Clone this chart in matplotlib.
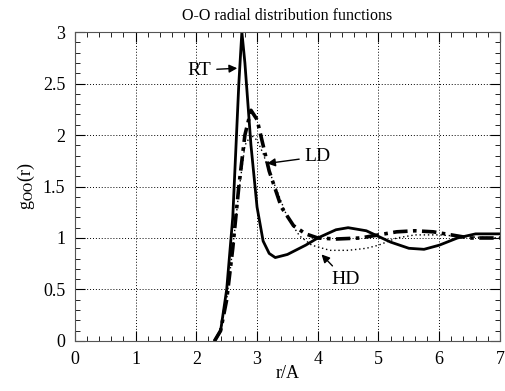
import matplotlib
matplotlib.use("Agg")
import matplotlib.pyplot as plt
from matplotlib.ticker import MultipleLocator

plt.rcParams['font.family'] = ['Liberation Serif', 'DejaVu Serif']
plt.rcParams['mathtext.fontset'] = 'stix'

rt_r = [2.3, 2.4, 2.5, 2.6, 2.7, 2.75, 2.8, 2.9, 3.0, 3.1, 3.2, 3.3, 3.5, 3.8, 4.0, 4.3, 4.5, 4.8, 5.2, 5.5, 5.75, 6.0, 6.3, 6.6, 7.0]
rt_g = [0, 0.1, 0.5, 1.2, 2.5, 3.0, 2.7, 1.9, 1.3, 0.97, 0.85, 0.81, 0.84, 0.93, 1.0, 1.08, 1.1, 1.07, 0.96, 0.9, 0.89, 0.93, 1.0, 1.04, 1.04]

ld_r = [2.3, 2.4, 2.5, 2.6, 2.7, 2.8, 2.9, 3.0, 3.1, 3.2, 3.4, 3.6, 3.8, 4.0, 4.3, 4.7, 5.0, 5.3, 5.6, 5.9, 6.2, 6.5, 7.0]
ld_g = [0, 0.1, 0.4, 0.9, 1.5, 2.0, 2.24, 2.15, 1.9, 1.65, 1.3, 1.12, 1.04, 1.0, 0.99, 1.0, 1.03, 1.06, 1.07, 1.06, 1.03, 1.0, 1.0]

hd_r = [2.3, 2.4, 2.5, 2.6, 2.7, 2.8, 2.9, 3.0, 3.1, 3.2, 3.3, 3.5, 3.7, 3.9, 4.2, 4.5, 4.8, 5.0, 5.3, 5.6, 6.0, 6.5, 7.0]
hd_g = [0, 0.1, 0.4, 0.9, 1.45, 1.9, 2.0, 1.95, 1.82, 1.65, 1.5, 1.2, 1.02, 0.93, 0.88, 0.88, 0.9, 0.93, 1.0, 1.03, 1.03, 1.01, 1.0]

xticks = [0, 1, 2, 3, 4, 5, 6, 7]
yticks = [0, 0.5, 1, 1.5, 2, 2.5, 3]

fig = plt.figure(figsize=(5.06, 3.91), dpi=100)
ax = fig.add_axes([0.148, 0.128, 0.840, 0.790])

ax.plot(rt_r, rt_g, color='black', lw=2.0, solid_joinstyle='round')
ax.plot(ld_r, ld_g, color='black', lw=2.6, linestyle=(0, (4, 1.5, 1, 1.5)))
ax.plot(hd_r, hd_g, color='black', lw=1.0, linestyle=(0, (1, 2)))

ax.set_xlim(0, 7)
ax.set_ylim(0, 3)
ax.set_xticks(xticks)
ax.set_yticks(yticks)
ax.set_xticklabels([str(t) for t in xticks])
ax.set_yticklabels([('%g' % t) for t in yticks])
ax.xaxis.set_minor_locator(MultipleLocator(0.2))
ax.yaxis.set_minor_locator(MultipleLocator(0.1))
ax.tick_params(which='both', direction='in', top=True, right=True, labelsize=13, colors='black')
ax.tick_params(which='major', length=7, width=0.8, pad=7)
ax.tick_params(which='minor', length=3.5, width=0.6)
ax.grid(True, which='major', linestyle=(0, (1, 2)), color='black', lw=0.7)
for s in ax.spines.values():
    s.set_linewidth(0.8)
    s.set_color('#555555')

ax.set_title('O-O radial distribution functions', fontsize=11.5, pad=9)
ax.set_xlabel('r/A', fontsize=13, labelpad=-2)
ax.set_ylabel(r'g$_{\mathrm{OO}}$(r)', fontsize=13, labelpad=4)

arrow = dict(arrowstyle='-|>', color='black', lw=1.0, mutation_scale=12)
ax.annotate('RT', xy=(2.72, 2.65), xytext=(2.05, 2.63), fontsize=14, ha='center', va='center', arrowprops=arrow)
ax.annotate('LD', xy=(3.12, 1.72), xytext=(4.0, 1.79), fontsize=14, ha='center', va='center', arrowprops=arrow)
ax.annotate('HD', xy=(4.03, 0.86), xytext=(4.45, 0.6), fontsize=14, ha='center', va='center', arrowprops=arrow)

fig.savefig('out.png', dpi=100)
